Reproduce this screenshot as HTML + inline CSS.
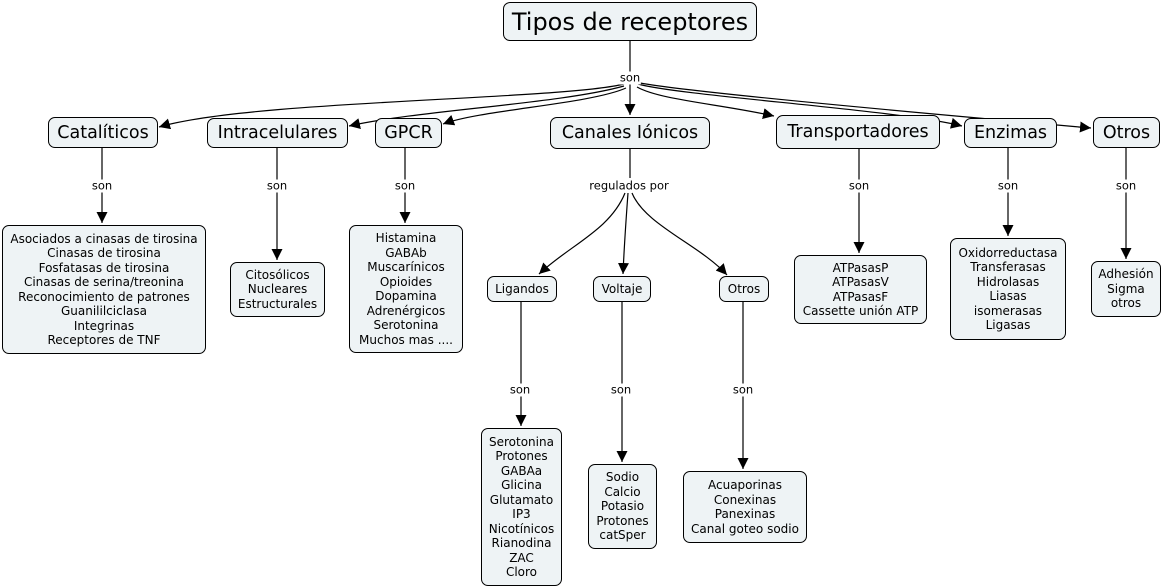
<!DOCTYPE html>
<html><head><meta charset="utf-8"><style>
body{margin:0;width:1163px;height:587px;background:#fff;position:relative;overflow:hidden;font-family:"DejaVu Sans","Liberation Sans",sans-serif;color:#000}
.b{position:absolute;box-sizing:border-box;background:#eef3f5;border:1px solid #000;border-radius:7px;display:flex;align-items:center;justify-content:center;text-align:center;white-space:nowrap}
.s{font-size:12px;line-height:14.5px}
.m{font-size:17.5px}
.l{position:absolute;font-size:11.5px;background:#fff;transform:translate(-50%,-50%);white-space:nowrap;line-height:13px;padding:0 1px}
svg{position:absolute;left:0;top:0}
</style></head><body>
<svg width="1163" height="587">
<defs><marker id="a" viewBox="0 0 10 10" refX="10" refY="5" markerWidth="11" markerHeight="11" markerUnits="userSpaceOnUse" orient="auto"><path d="M0,0L10,5L0,10z" fill="#000"/></marker></defs>
<g fill="none" stroke="#000" stroke-width="1.2">
<path d="M630,40V72"/>
<path d="M624,84C560,100 250,100 159,127" marker-end="url(#a)"/>
<path d="M624,86C560,104 420,110 349,126" marker-end="url(#a)"/>
<path d="M626,88C590,104 480,110 443,124" marker-end="url(#a)"/>
<path d="M630,84V115" marker-end="url(#a)"/>
<path d="M637,87C660,100 720,104 774,116" marker-end="url(#a)"/>
<path d="M638,84C680,96 900,110 962,126" marker-end="url(#a)"/>
<path d="M640,83C700,94 1000,120 1091,128" marker-end="url(#a)"/>
<path d="M102,147V223" marker-end="url(#a)"/>
<path d="M277,147V260" marker-end="url(#a)"/>
<path d="M405,147V223" marker-end="url(#a)"/>
<path d="M630,148V178"/>
<path d="M625,193C610,230 570,245 539,274" marker-end="url(#a)"/>
<path d="M628,193C626,220 624,250 623,274" marker-end="url(#a)"/>
<path d="M632,193C645,225 700,245 727,275" marker-end="url(#a)"/>
<path d="M521,301V426" marker-end="url(#a)"/>
<path d="M622,301V462" marker-end="url(#a)"/>
<path d="M743,301V469" marker-end="url(#a)"/>
<path d="M859,148V253" marker-end="url(#a)"/>
<path d="M1008,147V236" marker-end="url(#a)"/>
<path d="M1126,147V259" marker-end="url(#a)"/>
</g></svg>
<div class="l" style="left:630px;top:78px">son</div>
<div class="l" style="left:102px;top:186px">son</div>
<div class="l" style="left:277px;top:186px">son</div>
<div class="l" style="left:405px;top:186px">son</div>
<div class="l" style="left:629px;top:186px">regulados por</div>
<div class="l" style="left:520px;top:390px">son</div>
<div class="l" style="left:621px;top:390px">son</div>
<div class="l" style="left:743px;top:390px">son</div>
<div class="l" style="left:859px;top:186px">son</div>
<div class="l" style="left:1008px;top:186px">son</div>
<div class="l" style="left:1126px;top:186px">son</div>

<div class="b" style="left:503px;top:2px;width:254px;height:39px;font-size:24px">Tipos de receptores</div>
<div class="b m" style="left:48px;top:117px;width:110px;height:31px">Catalíticos</div>
<div class="b m" style="left:207px;top:118px;width:141px;height:30px">Intracelulares</div>
<div class="b m" style="left:375px;top:118px;width:67px;height:30px">GPCR</div>
<div class="b m" style="left:550px;top:117px;width:160px;height:32px">Canales Iónicos</div>
<div class="b m" style="left:776px;top:115px;width:164px;height:34px">Transportadores</div>
<div class="b m" style="left:964px;top:118px;width:93px;height:30px">Enzimas</div>
<div class="b m" style="left:1093px;top:117px;width:67px;height:31px">Otros</div>

<div class="b s" style="left:2px;top:225px;width:204px;height:129px">Asociados a cinasas de tirosina<br>Cinasas de tirosina<br>Fosfatasas de tirosina<br>Cinasas de serina/treonina<br>Reconocimiento de patrones<br>Guanililciclasa<br>Integrinas<br>Receptores de TNF</div>
<div class="b s" style="left:230px;top:262px;width:95px;height:55px">Citosólicos<br>Nucleares<br>Estructurales</div>
<div class="b s" style="left:349px;top:225px;width:114px;height:128px">Histamina<br>GABAb<br>Muscarínicos<br>Opioides<br>Dopamina<br>Adrenérgicos<br>Serotonina<br>Muchos mas ....</div>

<div class="b s" style="left:487px;top:276px;width:70px;height:26px">Ligandos</div>
<div class="b s" style="left:593px;top:276px;width:58px;height:26px">Voltaje</div>
<div class="b s" style="left:719px;top:276px;width:50px;height:26px">Otros</div>

<div class="b s" style="left:481px;top:428px;width:81px;height:158px">Serotonina<br>Protones<br>GABAa<br>Glicina<br>Glutamato<br>IP3<br>Nicotínicos<br>Rianodina<br>ZAC<br>Cloro</div>
<div class="b s" style="left:588px;top:464px;width:69px;height:85px">Sodio<br>Calcio<br>Potasio<br>Protones<br>catSper</div>
<div class="b s" style="left:683px;top:471px;width:124px;height:72px">Acuaporinas<br>Conexinas<br>Panexinas<br>Canal goteo sodio</div>

<div class="b s" style="left:794px;top:255px;width:133px;height:69px">ATPasasP<br>ATPasasV<br>ATPasasF<br>Cassette unión ATP</div>
<div class="b s" style="left:950px;top:238px;width:116px;height:102px">Oxidorreductasa<br>Transferasas<br>Hidrolasas<br>Liasas<br>isomerasas<br>Ligasas</div>
<div class="b s" style="left:1091px;top:261px;width:70px;height:56px">Adhesión<br>Sigma<br>otros</div>
</body></html>
